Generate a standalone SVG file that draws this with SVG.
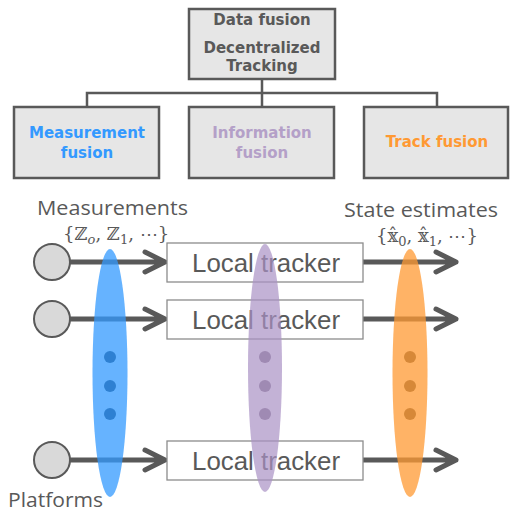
<svg xmlns="http://www.w3.org/2000/svg" width="511" height="512" viewBox="0 0 511 512">
<style>
.box{fill:#e6e6e6;stroke:#595959;stroke-width:2.5}
.tb{font-family:"DejaVu Sans","Liberation Sans",sans-serif;font-weight:bold;font-size:15px;text-anchor:middle}
.tree{fill:none;stroke:#595959;stroke-width:2.5}
.arr{fill:none;stroke:#595959;stroke-width:5;stroke-linecap:round;stroke-linejoin:round}
.plat{fill:#d9d9d9;stroke:#595959;stroke-width:2}
.lt{fill:#fff;stroke:#8c8c8c;stroke-width:1.3}
.ltt{font-family:"Liberation Sans",Arial,sans-serif;font-size:26px;fill:#595959;text-anchor:middle}
.lab{font-family:"Open Sans","Noto Sans",sans-serif;font-size:20px;fill:#595959}
.math{font-family:"DejaVu Serif","Liberation Serif",serif;font-size:18px;fill:#595959}
</style>
<g id="connectors">
<path class="tree" d="M262,79 V93 M87,107 V93 H437 V107 M262,93 V107"/>
<path class="arr" d="M70,262 H165 M145,252 L165,262 L145,272"/>
<path class="arr" d="M70,319 H165 M145,309 L165,319 L145,329"/>
<path class="arr" d="M70,460 H165 M145,450 L165,460 L145,470"/>
<path class="arr" d="M363,262 H456 M436,252 L456,262 L436,272"/>
<path class="arr" d="M363,319 H456 M436,309 L456,319 L436,329"/>
<path class="arr" d="M363,460 H456 M436,450 L456,460 L436,470"/>
</g>
<g id="data-fusion">
<rect class="box" x="189" y="9" width="146" height="70"/>
<text class="tb" x="262" y="25" fill="#595959">Data fusion</text>
<text class="tb" x="262" y="53" fill="#595959">Decentralized</text>
<text class="tb" x="262" y="71" fill="#595959">Tracking</text>
</g>
<g id="measurement-fusion">
<rect class="box" x="14" y="107" width="145" height="71"/>
<text class="tb" x="87" y="138" fill="#3399ff">Measurement</text>
<text class="tb" x="87" y="158" fill="#3399ff">fusion</text>
</g>
<g id="information-fusion">
<rect class="box" x="189" y="107" width="145" height="71"/>
<text class="tb" x="262" y="138" fill="#b4a0c8">Information</text>
<text class="tb" x="262" y="158" fill="#b4a0c8">fusion</text>
</g>
<g id="track-fusion">
<rect class="box" x="364" y="107" width="144" height="71"/>
<text class="tb" x="437" y="147" fill="#ff9933">Track fusion</text>
</g>
<g id="platforms">
<circle class="plat" cx="52" cy="262" r="18"/>
<circle class="plat" cx="52" cy="319" r="18"/>
<circle class="plat" cx="52" cy="460" r="18"/>
</g>
<g id="local-trackers">
<rect class="lt" x="167" y="243" width="196" height="39"/>
<text class="ltt" x="266" y="272" textLength="148" lengthAdjust="spacingAndGlyphs">Local tracker</text>
<rect class="lt" x="167" y="300" width="196" height="39"/>
<text class="ltt" x="266" y="329" textLength="148" lengthAdjust="spacingAndGlyphs">Local tracker</text>
<rect class="lt" x="167" y="441" width="196" height="39"/>
<text class="ltt" x="266" y="470" textLength="148" lengthAdjust="spacingAndGlyphs">Local tracker</text>
</g>
<g id="labels">
<text class="lab" x="37" y="215" textLength="151" lengthAdjust="spacingAndGlyphs">Measurements</text>
<text class="math" x="63" y="240">{ℤ<tspan font-size="13" dy="4" font-style="italic">o</tspan><tspan dy="-4">, ℤ</tspan><tspan font-size="13" dy="4">1</tspan><tspan dy="-4">, ⋯}</tspan></text>
<text class="lab" x="344" y="217" textLength="154" lengthAdjust="spacingAndGlyphs">State estimates</text>
<text class="math" x="376" y="242">{𝕩̂<tspan font-size="13" dy="4">0</tspan><tspan dy="-4">, 𝕩̂</tspan><tspan font-size="13" dy="4">1</tspan><tspan dy="-4">, ⋯}</tspan></text>
<text class="lab" x="8" y="507" textLength="95" lengthAdjust="spacingAndGlyphs">Platforms</text>
</g>
<g id="fusion-ellipses">
<ellipse cx="110" cy="373" rx="17.5" ry="124" fill="#3399ff" fill-opacity="0.75"/>
<ellipse cx="265" cy="368" rx="17" ry="124" fill="#a991c4" fill-opacity="0.7"/>
<ellipse cx="410" cy="373" rx="17.5" ry="124" fill="#ff9933" fill-opacity="0.75"/>
</g>
<g id="dots">
<circle cx="110" cy="357" r="6" fill="#2e80d2"/>
<circle cx="110" cy="386" r="6" fill="#2e80d2"/>
<circle cx="110" cy="414" r="6" fill="#2e80d2"/>
<circle cx="265" cy="357" r="6" fill="#9f8ab3"/>
<circle cx="265" cy="386" r="6" fill="#9f8ab3"/>
<circle cx="265" cy="414" r="6" fill="#9f8ab3"/>
<circle cx="410" cy="357" r="6" fill="#d68838"/>
<circle cx="410" cy="386" r="6" fill="#d68838"/>
<circle cx="410" cy="414" r="6" fill="#d68838"/>
</g>
</svg>
